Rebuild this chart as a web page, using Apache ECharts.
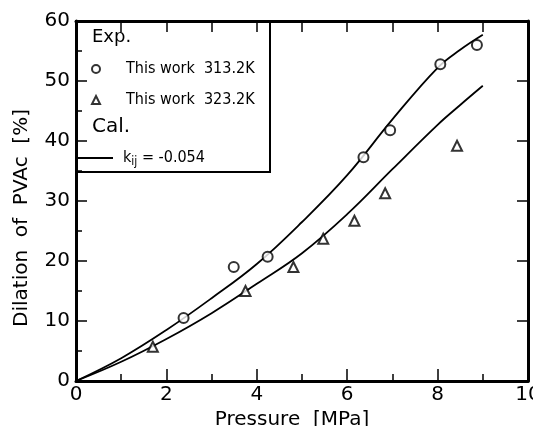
<!DOCTYPE html>
<html>
<head>
<meta charset="utf-8">
<script src="https://cdn.jsdelivr.net/npm/echarts@6/dist/echarts.min.js"></script>
<style>
  html, body { margin: 0; padding: 0; background: #fff; }
  #main { width: 533px; height: 426px; }
</style>
</head>
<body>
<div id="main"></div>
<script>
// experimental points, 313.2 K (circles)
var exp313P = [2.38, 3.49, 4.24, 6.36, 6.95, 8.06, 8.87];
var exp313D = [10.5, 19.0, 20.7, 37.3, 41.8, 52.8, 56.0];
// experimental points, 323.2 K (triangles)
var exp323P = [1.70, 3.75, 4.81, 5.47, 6.16, 6.84, 8.43];
var exp323D = [5.7, 15.0, 19.0, 23.7, 26.7, 31.3, 39.2];
// calculated curves, kij = -0.054
var calP = [0, 1, 2, 3, 4, 5, 6, 7, 8, 8.5, 9];
var cal313 = [0, 3.8, 8.5, 13.8, 19.5, 26.5, 34.3, 43.6, 52.2, 55.2, 57.7];
var cal323 = [0, 3.2, 7.0, 11.3, 16.2, 21.3, 27.8, 35.3, 42.7, 46.0, 49.2];

var font = 'DejaVu Sans';

function pairs(xs, ys) {
  return xs.map(function (x, i) { return [x, ys[i]]; });
}

var chart = echarts.init(document.getElementById('main'));

var option = {
  backgroundColor: '#fff',
  animation: false,
  textStyle: { fontFamily: font, color: '#000' },
  grid: { left: 76, right: 5, top: 21, bottom: 45, containLabel: false, outerBoundsMode: 'none' },
  xAxis: [
    {
      type: 'value', min: 0, max: 10, interval: 2,
      position: 'bottom',
      name: 'Pressure  [MPa]', nameLocation: 'middle', nameGap: 26,
      nameTextStyle: { fontSize: 20, fontFamily: font, color: '#000', padding: [0, 20, 0, 0] },
      axisLine: { onZero: false, lineStyle: { color: '#000', width: 3 } },
      axisTick: { inside: true, length: 12, lineStyle: { color: '#000', width: 1.5 } },
      minorTick: { show: true, splitNumber: 2, length: 7, lineStyle: { color: '#000', width: 1.5 } },
      axisLabel: { fontSize: 20, margin: 4, color: '#000', fontFamily: font },
      splitLine: { show: false }
    },
    {
      type: 'value', min: 0, max: 10, interval: 1,
      position: 'top',
      axisLine: { onZero: false, lineStyle: { color: '#000', width: 3 } },
      axisTick: { inside: true, length: 11, lineStyle: { color: '#000', width: 1.5 } },
      axisLabel: { show: false },
      splitLine: { show: false }
    }
  ],
  yAxis: [
    {
      type: 'value', min: 0, max: 60, interval: 10,
      position: 'left',
      name: 'Dilation  of  PVAc  [%]', nameLocation: 'middle', nameGap: 44,
      nameTextStyle: { fontSize: 20, fontFamily: font, color: '#000', padding: [0, 34, 0, 0] },
      axisLine: { onZero: false, lineStyle: { color: '#000', width: 3 } },
      axisTick: { inside: true, length: 11, lineStyle: { color: '#000', width: 1.5 } },
      minorTick: { show: true, splitNumber: 2, length: 6, lineStyle: { color: '#000', width: 1.5 } },
      axisLabel: { fontSize: 20, margin: 6, color: '#000', fontFamily: font },
      splitLine: { show: false }
    },
    {
      type: 'value', min: 0, max: 60, interval: 10,
      position: 'right',
      axisLine: { onZero: false, lineStyle: { color: '#000', width: 3 } },
      axisTick: { inside: true, length: 11, lineStyle: { color: '#000', width: 1.5 } },
      axisLabel: { show: false },
      splitLine: { show: false }
    }
  ],
  legend: [
    {
      data: [
        { name: 'This work  313.2K', icon: 'emptyCircle' },
        { name: 'This work  323.2K', icon: 'emptyTriangle' }
      ],
      orient: 'vertical', left: 86, top: 56, itemGap: 15,
      itemWidth: 8, itemHeight: 8, selectedMode: false,
      textStyle: { fontSize: 16, fontFamily: 'DejaVu Sans Condensed', color: '#000', padding: [0, 0, 0, 21] }
    },
    {
      data: [{ name: 'kij', icon: 'rect' }],
      orient: 'vertical', left: 73, top: 145,
      itemWidth: 35, itemHeight: 2, selectedMode: false,
      itemStyle: { color: '#000' },
      formatter: function () { return 'k{sub|ij} = -0.054'; },
      textStyle: {
        fontSize: 16, fontFamily: 'DejaVu Sans Condensed', color: '#000', padding: [0, 0, 0, 5],
        rich: { sub: { fontSize: 12, fontFamily: 'DejaVu Sans Condensed', padding: [7, 0, 0, 0] } }
      }
    }
  ],
  graphic: [
    { type: 'rect', shape: { x: 76, y: 21, width: 194, height: 151 },
      style: { fill: 'none', stroke: '#000', lineWidth: 2 }, z: 10 },
    { type: 'text', left: 92, top: 28, style: { text: 'Exp.', font: '18px "DejaVu Sans"', fill: '#000' }, z: 10 },
    { type: 'text', left: 92, top: 117, style: { text: 'Cal.', font: '20px "DejaVu Sans"', fill: '#000' }, z: 10 }
  ],
  series: [
    {
      name: 'kij', type: 'line', smooth: 0.4, symbol: 'none',
      data: pairs(calP, cal313),
      lineStyle: { color: '#000', width: 1.8 }, itemStyle: { color: '#000' }, z: 2
    },
    {
      name: 'kij', type: 'line', smooth: 0.4, symbol: 'none',
      data: pairs(calP, cal323),
      lineStyle: { color: '#000', width: 1.8 }, itemStyle: { color: '#000' }, z: 2
    },
    {
      name: 'This work  313.2K', type: 'scatter', symbol: 'emptyCircle', symbolSize: 10,
      data: pairs(exp313P, exp313D),
      itemStyle: { color: '#000', borderColor: '#000', borderWidth: 1.8 }, z: 5
    },
    {
      name: 'This work  323.2K', type: 'scatter', symbol: 'emptyTriangle', symbolSize: 10,
      data: pairs(exp323P, exp323D),
      itemStyle: { color: '#000', borderColor: '#000', borderWidth: 1.8 }, z: 5
    }
  ]
};

chart.setOption(option);
</script>
</body>
</html>
